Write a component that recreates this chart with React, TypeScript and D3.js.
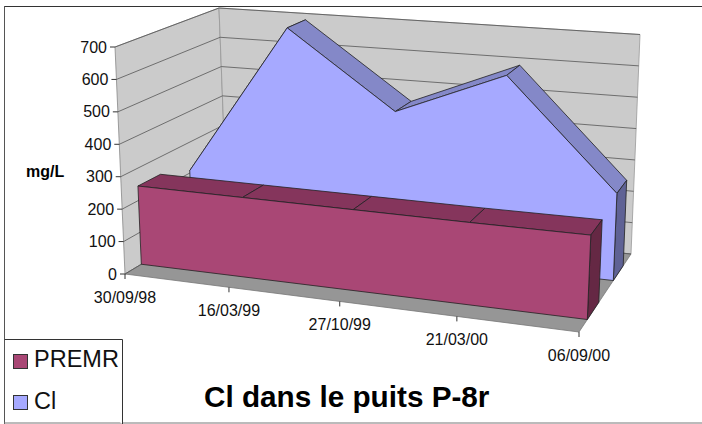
import React from "react";
import * as d3 from "d3";

const categories = ["30/09/98", "16/03/99", "27/10/99", "21/03/00", "06/09/00"];
const clValues = [208, 703, 461, 604, 268];
const premrValues = [245, 245, 245, 245, 247];
const valueTicks = [0, 100, 200, 300, 400, 500, 600, 700];

const FONT = "'Liberation Sans', Arial, sans-serif";
const tFront = d3.scaleLinear().domain([0, 1, 2, 3, 4]).range([0, 0.229, 0.473, 0.731, 1]);
const tEven = d3.scaleLinear().domain([0, 4]).range([0, 1]);
const vPos = d3.scaleLinear().domain([0, 700]).range([0, 1]);

// Corners of the 3D box on screen
const C = {
  f0l: [125, 274], f1l: [115, 47], b0l: [227, 213], b1l: [219, 8],
  f0r: [579, 332], f1r: [589, 89], b0r: [631, 254], b1r: [640, 34.5],
};
const mix = (a: number[], b: number[], k: number) => [a[0] + (b[0] - a[0]) * k, a[1] + (b[1] - a[1]) * k];
function P(i: number, value: number, depth: number): [number, number] {
  const t = tFront(i) + (tEven(i) - tFront(i)) * depth * 0.5;
  const v = vPos(value);
  const fl = mix(C.f0l, C.f1l, v), fr = mix(C.f0r, C.f1r, v);
  const bl = mix(C.b0l, C.b1l, v), br = mix(C.b0r, C.b1r, v);
  const p = mix(mix(fl, fr, t), mix(bl, br, t), depth);
  return [p[0], p[1]];
}
const path = d3.line<[number, number]>().x((p) => p[0]).y((p) => p[1]);
const poly = (pts: [number, number][]) => path(pts) + "Z";

const CL_D0 = 0.66, CL_D1 = 0.85, PR_D0 = 0.16, PR_D1 = 0.38;

function Ribbon({ values, d0, d1, face, top, side }: any) {
  const n = values.length - 1;
  const facePts: [number, number][] = [
    ...values.map((v: number, i: number) => P(i, v, d0)),
    P(n, 0, d0),
    P(0, 0, d0),
  ];
  return (
    <g stroke="#222" strokeWidth={0.8} strokeLinejoin="round">
      {values.slice(0, -1).map((v: number, i: number) => (
        <path key={i} d={poly([P(i, v, d0), P(i + 1, values[i + 1], d0), P(i + 1, values[i + 1], d1), P(i, v, d1)])} fill={top} />
      ))}
      <path d={poly([P(n, values[n], d0), P(n, values[n], d1), P(n, 0, d1), P(n, 0, d0)])} fill={side} />
      <path d={poly(facePts)} fill={face} />
    </g>
  );
}

export default function App() {
  const wall = "#cbcbcb", grid = "#555";
  return (
    <svg width={702} height={424} style={{ position: "absolute", left: 0, top: 0, background: "#fff" }} fontFamily={FONT}>
      <line x1={4} x2={702} y1={6.5} y2={6.5} stroke="#333" />
      <line x1={4.5} x2={4.5} y1={6} y2={424} stroke="#555" />
      <line x1={4} x2={702} y1={423} y2={423} stroke="#777" />
      {/* walls */}
      <path d={poly([P(0, 0, 0), P(0, 700, 0), P(0, 700, 1), P(0, 0, 1)])} fill={wall} stroke="#888" strokeWidth={0.8} />
      <path d={poly([P(0, 0, 1), P(0, 700, 1), P(4, 700, 1), P(4, 0, 1)])} fill={wall} stroke="#999" strokeWidth={0.8} />
      <path d={poly([P(0, 0, 0), P(4, 0, 0), P(4, 0, 1), P(0, 0, 1)])} fill="#969696" stroke="#777" strokeWidth={0.8} />
      {valueTicks.map((v) => (
        <g key={v}>
          <path d={path([P(0, v, 0), P(0, v, 1), P(4, v, 1)])!} fill="none" stroke={grid} strokeWidth={0.8} />
          <line x1={P(0, v, 0)[0] - 5} x2={P(0, v, 0)[0]} y1={P(0, v, 0)[1]} y2={P(0, v, 0)[1]} stroke="#333" />
          <text x={P(0, v, 0)[0] - 8} y={P(0, v, 0)[1] + 5.5} fontSize={16} textAnchor="end" fill="#111">{v}</text>
        </g>
      ))}
      {categories.map((c, i) => {
        const [x, y] = P(i, 0, 0);
        return (
          <g key={c}>
            <line x1={x} x2={x} y1={y} y2={y + 5} stroke="#333" />
            <text x={x} y={y + 28.5} fontSize={16} textAnchor="middle" fill="#111">{c}</text>
          </g>
        );
      })}
      <Ribbon values={clValues} d0={CL_D0} d1={CL_D1} face="#a6a9ff" top="#8488c8" side="#5f6295" />
      <Ribbon values={premrValues} d0={PR_D0} d1={PR_D1} face="#a94775" top="#85355c" side="#652844" />
      <text x={26} y={177} fontSize={16} fontWeight="bold" fill="#000">mg/L</text>
      <path d="M4.5 339.5H122.5V424" fill="#fff" stroke="#333" strokeWidth={1} />
      <rect x={13.5} y={354.5} width={14} height={14} fill="#a94775" stroke="#333" />
      <rect x={13.5} y={395.5} width={14} height={14} fill="#a6a9ff" stroke="#333" />
      <text x={34} y={367} fontSize={23.5} fill="#111">PREMR</text>
      <text x={34} y={409} fontSize={23.5} fill="#111">Cl</text>
      <text x={204} y={407} fontSize={29.7} fontWeight="bold" fill="#000">Cl dans le puits P-8r</text>
    </svg>
  );
}
